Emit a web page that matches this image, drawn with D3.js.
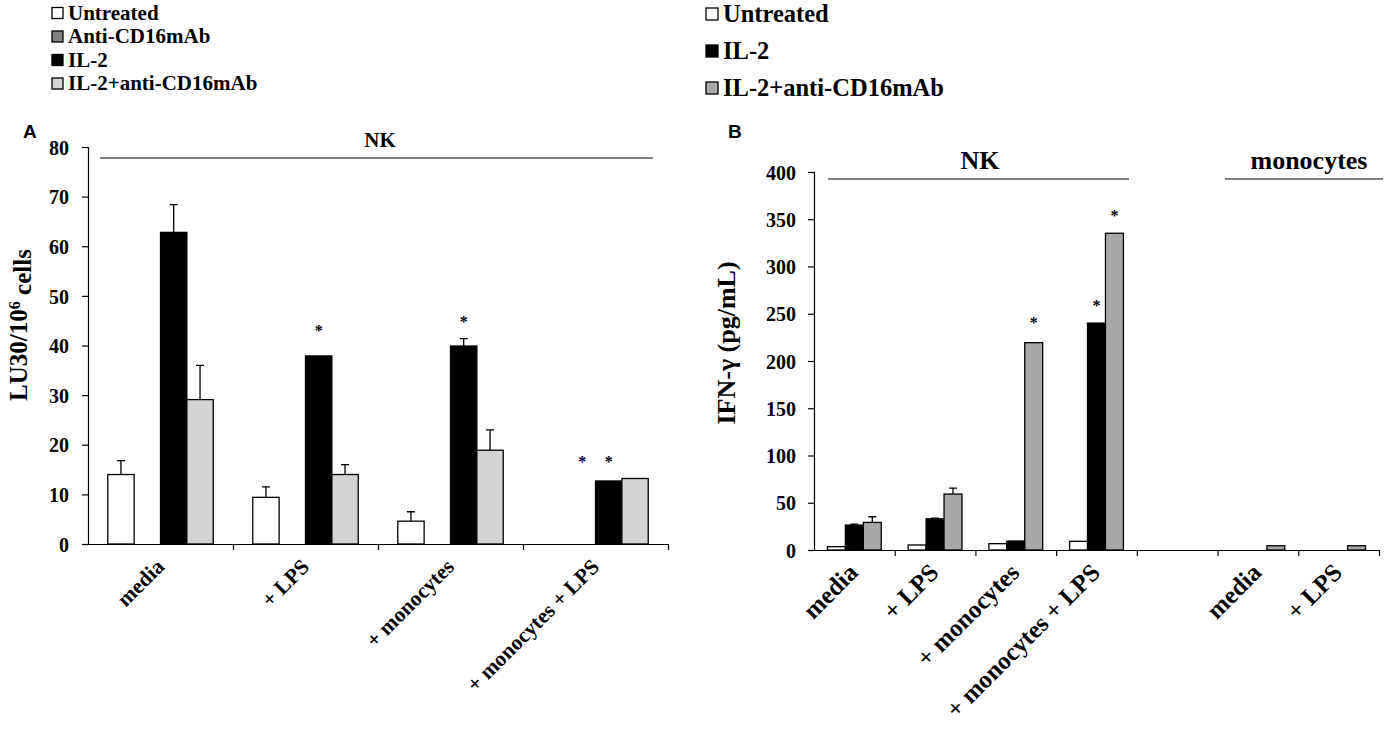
<!DOCTYPE html>
<html lang="en">
<head>
  <meta charset="UTF-8">
  <title>NK cytotoxicity and IFN-gamma</title>
  <script src="https://cdn.jsdelivr.net/npm/d3@7"></script>
  <style>
    body { margin: 0; background: #fff; }
    svg text { font-family: "Liberation Serif", "Times New Roman", serif; font-weight: bold; fill: #000; }
    .panel-letter { font-family: "Liberation Sans", Arial, sans-serif !important; }
  </style>
</head>
<body>
<script>
  // ---- panel A: cytotoxicity (LU30/10^6 cells) ----
  const catsA = ["media", "+ LPS", "+ monocytes", "+ monocytes + LPS"];
  const seriesA = ["Untreated", "Anti-CD16mAb", "IL-2", "IL-2+anti-CD16mAb"];
  const untreatedA = [14.0, 9.4, 4.6, null];
  const antiCD16A = [null, null, null, null];
  const il2A = [62.8, 37.9, 39.9, 12.7];
  const il2AntiA = [29.1, 14.0, 18.9, 13.2];
  const untreatedErrA = [16.8, 11.5, 6.5, null];
  const antiCD16ErrA = [null, null, null, null];
  const il2ErrA = [68.4, null, 41.4, null];
  const il2AntiErrA = [36.0, 16.0, 23.0, null];
  // [category index, series index, star height]
  const starsA = [[1, 2, 43.4], [2, 2, 45.1], [3, 1, 16.9], [3, 2, 16.9]];
  const ticksA = [0, 10, 20, 30, 40, 50, 60, 70, 80];

  // ---- panel B: IFN-gamma (pg/mL) ----
  const catsB = ["media", "+ LPS", "+ monocytes", "+ monocytes + LPS", "", "media", "+ LPS"];
  const seriesB = ["Untreated", "IL-2", "IL-2+anti-CD16mAb"];
  const untreatedB = [3.5, 5.3, 6.7, 9.2, null, null, null];
  const il2B = [26.4, 33.0, 9.5, 240.1, null, null, null];
  const il2AntiB = [29.2, 59.2, 219.4, 335.2, null, 4.5, 4.5];
  const untreatedErrB = [null, null, null, null, null, null, null];
  const il2ErrB = [27.3, 33.8, null, null, null, null, null];
  const il2AntiErrB = [35.2, 65.5, null, null, null, null, null];
  const starsB = [[2, 2, 241.9], [3, 1, 260.6], [3, 2, 355.6]];
  const ticksB = [0, 50, 100, 150, 200, 250, 300, 350, 400];

  const W = 1389, H = 732;
  const svg = d3.select("body").append("svg")
    .attr("width", W).attr("height", H)
    .style("display", "block");

  function panel(opt) {
    const g = svg.append("g");
    const n = opt.cats.length;
    const x = d3.scaleBand().domain(d3.range(n)).range([opt.x0, opt.x1]);
    const xs = d3.scaleBand().domain(d3.range(opt.series.length))
      .range([0, x.bandwidth()]).paddingInner(0).paddingOuter(0.75);
    const y = d3.scaleLinear().domain([0, opt.ticks[opt.ticks.length - 1]]).range([opt.y0, opt.y1]);

    // y axis
    g.append("g")
      .attr("transform", `translate(${opt.x0},0)`)
      .call(d3.axisLeft(y).tickValues(opt.ticks).tickSize(6).tickPadding(opt.tickPad))
      .call(a => a.selectAll("path,line").attr("stroke", "#000").attr("stroke-width", 1.2))
      .call(a => a.selectAll("text").style("font-size", "20px").attr("dy", "0.36em"));

    // x axis, ticks at category boundaries
    const xb = d3.scaleLinear().domain([0, n]).range([opt.x0, opt.x1]);
    g.append("g")
      .attr("transform", `translate(0,${opt.y0})`)
      .call(d3.axisBottom(xb).tickValues(d3.range(1, n + 1)).tickFormat("").tickSize(6).tickSizeOuter(0))
      .call(a => a.selectAll("path,line").attr("stroke", "#000").attr("stroke-width", 1.2));

    // bars
    const bars = [];
    opt.values.forEach((vals, s) => vals.forEach((v, c) => {
      if (v != null) bars.push({ c, s, v, e: opt.errs[s][c] });
    }));

    g.selectAll("line.err").data(bars.filter(d => d.e != null)).enter()
      .append("path")
      .attr("d", d => {
        const cx = x(d.c) + xs(d.s) + xs.bandwidth() / 2;
        return `M${cx},${y(d.v)}V${y(d.e)}M${cx - 4},${y(d.e)}H${cx + 4}`;
      })
      .attr("stroke", "#000").attr("stroke-width", 1.3).attr("fill", "none");

    g.selectAll("rect.bar").data(bars).enter()
      .append("rect")
      .attr("x", d => x(d.c) + xs(d.s))
      .attr("y", d => y(d.v))
      .attr("width", xs.bandwidth())
      .attr("height", d => y(0) - y(d.v))
      .attr("fill", d => opt.colors[d.s])
      .attr("stroke", "#000").attr("stroke-width", 1.3);

    // significance stars
    g.selectAll("text.star").data(opt.stars).enter()
      .append("text")
      .attr("x", d => x(d[0]) + xs(d[1]) + xs.bandwidth() / 2)
      .attr("y", d => y(d[2]) + 7)
      .attr("text-anchor", "middle")
      .style("font-size", "16px")
      .text("*");

    // category labels
    g.selectAll("text.cat").data(opt.cats).enter()
      .append("text")
      .attr("text-anchor", "end")
      .attr("transform", (d, i) => `translate(${x(i) + x.bandwidth() / 2 + 5},${opt.y0 + opt.catDy}) rotate(-45)`)
      .style("font-size", opt.catFont + "px")
      .text(d => d);

    // group lines and titles
    opt.groups.forEach(gr => {
      g.append("line")
        .attr("x1", gr.x1).attr("x2", gr.x2)
        .attr("y1", gr.y).attr("y2", gr.y)
        .attr("stroke", "#000").attr("stroke-width", 1.2);
      g.append("text")
        .attr("x", gr.tx).attr("y", gr.ty)
        .attr("text-anchor", "middle")
        .style("font-size", gr.fs + "px")
        .text(gr.label);
    });

    // y title
    const yt = g.append("text")
      .attr("transform", `translate(${opt.titleX},${opt.titleY}) rotate(-90)`)
      .attr("text-anchor", "middle")
      .style("font-size", opt.titleFont + "px");
    opt.title(yt);

    g.append("text").attr("class", "panel-letter")
      .attr("x", opt.letterX).attr("y", opt.letterY)
      .style("font-size", "19px")
      .text(opt.letter);

    // legend
    const lg = g.append("g");
    opt.legend.forEach((s, i) => {
      const cy = opt.legTop + i * opt.legStep;
      lg.append("rect")
        .attr("x", opt.legX).attr("y", cy - opt.legBox / 2)
        .attr("width", opt.legBox).attr("height", opt.legBox)
        .attr("fill", opt.colors[opt.series.indexOf(s)])
        .attr("stroke", "#000").attr("stroke-width", 1.3);
      lg.append("text")
        .attr("x", opt.legX + opt.legBox + 5).attr("y", cy + opt.legFont * 0.33)
        .style("font-size", opt.legFont + "px")
        .text(s);
    });
  }

  panel({
    cats: catsA, series: seriesA,
    values: [untreatedA, antiCD16A, il2A, il2AntiA],
    errs: [untreatedErrA, antiCD16ErrA, il2ErrA, il2AntiErrA],
    colors: ["#ffffff", "#808080", "#000000", "#d4d4d4"],
    stars: starsA, ticks: ticksA, tickPad: 13,
    x0: 88, x1: 668, y0: 544, y1: 147,
    catFont: 21.5, catDy: 24,
    groups: [{ x1: 100, x2: 653, y: 158, tx: 380, ty: 147, fs: 21, label: "NK" }],
    titleX: 27, titleY: 325, titleFont: 25,
    title: t => {
      t.append("tspan").text("LU30/10");
      t.append("tspan").attr("dy", "-0.45em").style("font-size", "16px").text("6");
      t.append("tspan").attr("dy", "0.45em").text(" cells");
    },
    letter: "A", letterX: 23, letterY: 138,
    legend: seriesA, legX: 52, legTop: 13, legStep: 23.5, legBox: 11, legFont: 21
  });

  panel({
    cats: catsB, series: seriesB,
    values: [untreatedB, il2B, il2AntiB],
    errs: [untreatedErrB, il2ErrB, il2AntiErrB],
    colors: ["#ffffff", "#000000", "#a8a8a8"],
    stars: starsB, ticks: ticksB, tickPad: 12,
    x0: 814, x1: 1379, y0: 550, y1: 172,
    catFont: 25, catDy: 24,
    groups: [
      { x1: 828, x2: 1129, y: 179, tx: 980, ty: 169, fs: 26, label: "NK" },
      { x1: 1225, x2: 1383, y: 179, tx: 1309, ty: 169, fs: 26, label: "monocytes" }
    ],
    titleX: 735, titleY: 343, titleFont: 26,
    title: t => t.text("IFN-γ (pg/mL)"),
    letter: "B", letterX: 728, letterY: 138,
    legend: seriesB, legX: 706, legTop: 14, legStep: 37, legBox: 12, legFont: 24.5
  });
</script>
</body>
</html>
